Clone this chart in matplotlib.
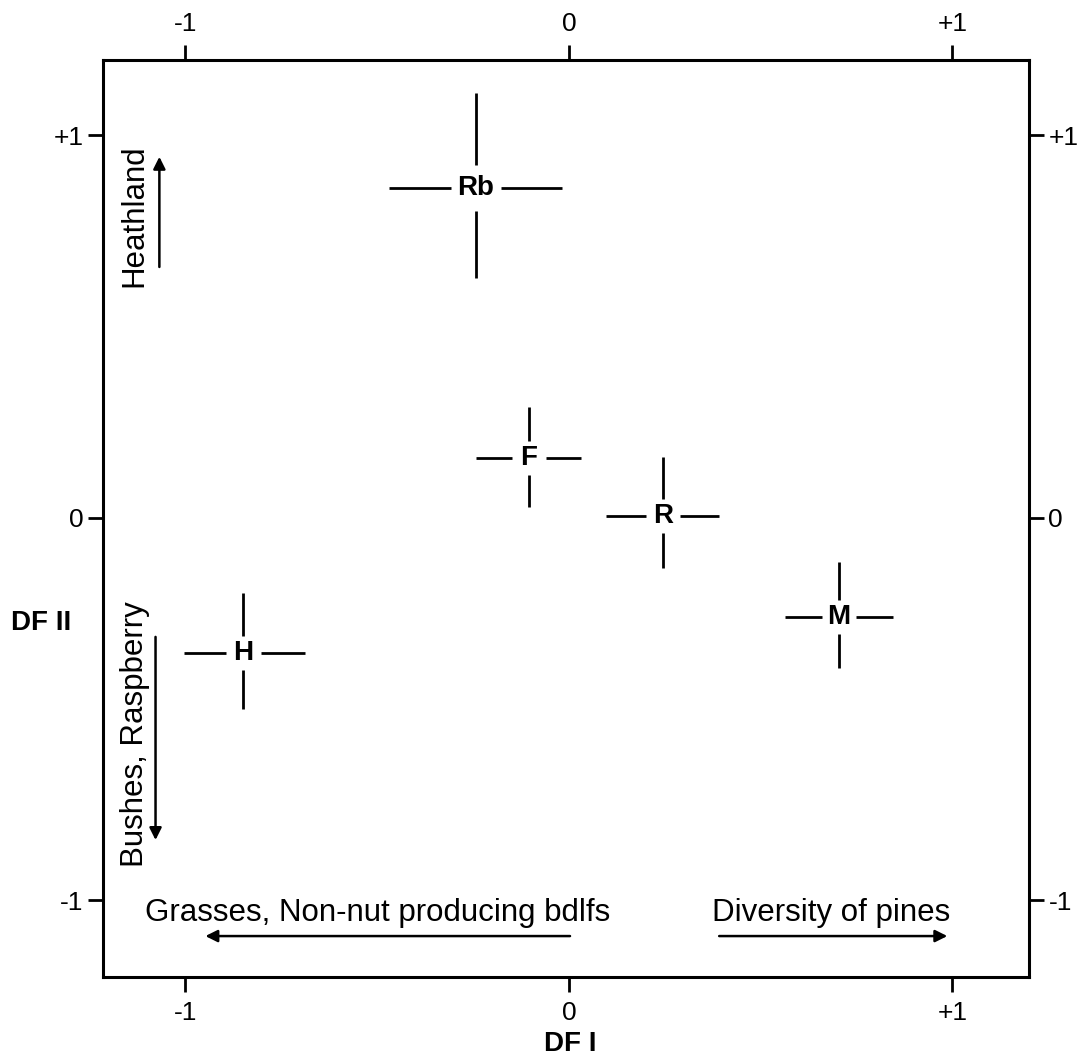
import matplotlib
matplotlib.use('Agg')
import matplotlib.pyplot as plt

plt.rcParams['font.family'] = ['Liberation Sans', 'DejaVu Sans']

# group centroids on DF I / DF II and the extent of their bars
labels = ['Rb', 'F', 'R', 'M', 'H']
df1 = [-0.243, -0.104, 0.245, 0.705, -0.849]
df2 = [0.863, 0.157, 0.005, -0.259, -0.353]
df1_lo = [-0.470, -0.243, 0.097, 0.564, -1.003]
df1_hi = [-0.018, 0.031, 0.392, 0.846, -0.689]
df2_lo = [0.627, 0.029, -0.131, -0.392, -0.499]
df2_hi = [1.111, 0.290, 0.159, -0.115, -0.196]

tick_vals = [-1, 0, 1]
tick_labels = ['-1', '0', '+1']

fig = plt.figure(figsize=(10.82, 10.6), dpi=100)
ax = fig.add_axes([0.0952, 0.0783, 0.8558, 0.8651])
ax.set_xlim(-1.215, 1.2)
ax.set_ylim(-1.2, 1.197)

lw = 2.0
for lab, x, y, xl, xh, yl, yh in zip(labels, df1, df2, df1_lo, df1_hi, df2_lo, df2_hi):
    hg = 0.045 + 0.02 * (len(lab) - 1)
    vg = 0.045 + 0.015 * (len(lab) - 1)
    ax.plot([xl, x - hg], [y, y], color='black', lw=lw, solid_capstyle='butt')
    ax.plot([x + hg, xh], [y, y], color='black', lw=lw, solid_capstyle='butt')
    ax.plot([x, x], [yl, y - vg], color='black', lw=lw, solid_capstyle='butt')
    ax.plot([x, x], [y + vg, yh], color='black', lw=lw, solid_capstyle='butt')
    ax.text(x, y, lab, ha='center', va='center', fontsize=20, fontweight='bold')

# direction annotations
arrow = dict(arrowstyle='-|>', color='black', lw=1.8, mutation_scale=18,
             shrinkA=0, shrinkB=0)
fs = 22.5
ax.annotate('', xy=(-1.068, 0.944), xytext=(-1.068, 0.656), arrowprops=arrow)
ax.text(-1.133, 0.79, 'Heathland', rotation=90, ha='center', va='center', fontsize=fs)
ax.annotate('', xy=(-1.078, -0.842), xytext=(-1.078, -0.311), arrowprops=arrow)
ax.text(-1.131, -0.565, 'Bushes, Raspberry', rotation=90, ha='center', va='center', fontsize=fs)
ax.annotate('', xy=(-0.948, -1.093), xytext=(0.003, -1.093), arrowprops=arrow)
ax.text(-0.499, -1.033, 'Grasses, Non-nut producing bdlfs', ha='center', va='center', fontsize=fs)
ax.annotate('', xy=(0.987, -1.093), xytext=(0.392, -1.093), arrowprops=arrow)
ax.text(0.684, -1.033, 'Diversity of pines', ha='center', va='center', fontsize=fs)

ax.set_xticks(tick_vals)
ax.set_xticklabels(tick_labels)
ax.set_yticks(tick_vals)
ax.set_yticklabels(tick_labels)
ax.tick_params(direction='out', length=11, width=2, labelsize=19,
               top=True, right=True, labeltop=True, labelright=True)
ax.tick_params(axis='x', pad=6)
ax.tick_params(axis='y', pad=3)
for s in ax.spines.values():
    s.set_linewidth(2.2)

fig.text(570 / 1082, 1 - 1044 / 1060, 'DF I', fontsize=20, fontweight='bold', ha='center', va='center')
fig.text(41 / 1082, 1 - 623 / 1060, 'DF II', fontsize=20, fontweight='bold', ha='center', va='center')

fig.savefig('out.png', dpi=100)
